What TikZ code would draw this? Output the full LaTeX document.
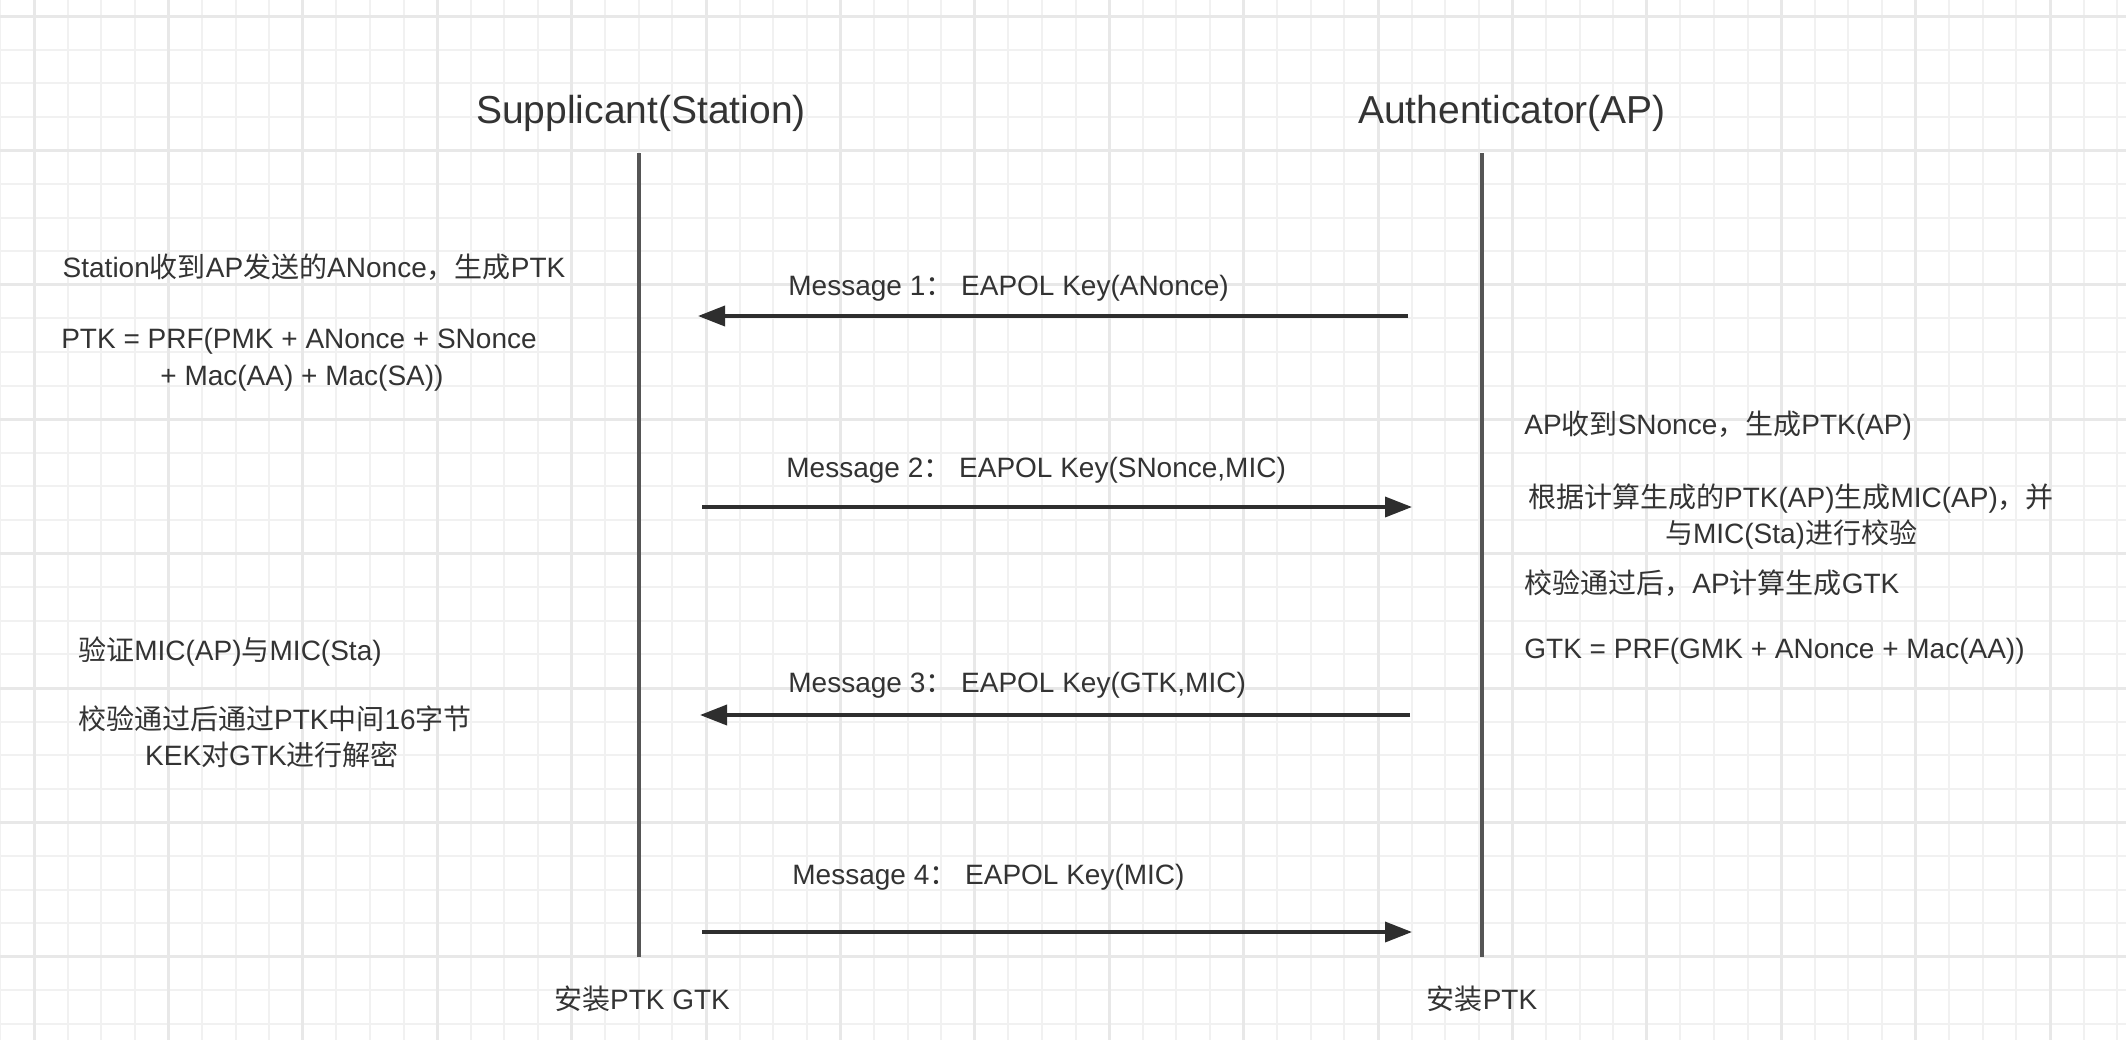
\documentclass[tikz,border=0pt]{standalone}
\usepackage{fontspec}
\setmainfont{Liberation Sans}
\newfontfamily\zh{Noto Sans CJK SC}
\usetikzlibrary{arrows.meta}
\definecolor{tcol}{HTML}{333333}
\definecolor{acol}{HTML}{2E2E2E}
\definecolor{lcol}{HTML}{555555}
\definecolor{gminor}{HTML}{F1F1F1}
\definecolor{gmajor}{HTML}{E8E8E8}
\newcommand\zhs[1]{{\zh #1}}
\begin{document}
\begin{tikzpicture}[x=0.5pt,y=-0.5pt,
  gridminor/.style={draw=gminor, line width=1pt},
  gridmajor/.style={draw=gmajor, line width=1.5pt},
  lifeline/.style={draw=lcol, line width=1.6pt},
  msg/.style={draw=acol, line width=1.8pt, -{Triangle[length=13.5pt,width=10pt]}},
  txt/.style={text=tcol, inner sep=0pt, font=\fontsize{14pt}{17pt}\selectfont},
  ttl/.style={text=tcol, inner sep=0pt, font=\fontsize{19.5pt}{23pt}\selectfont}]
\fill[white] (0,0) rectangle (2126,1040);
\useasboundingbox (0,0) rectangle (2126,1040);
% grid
\foreach \k in {0,...,63} { \draw[gridminor] ({0.4+33.6*\k},0) -- ({0.4+33.6*\k},1040); }
\foreach \k in {0,...,30} { \draw[gridminor] (0,{16+33.6*\k}) -- (2126,{16+33.6*\k}); }
\foreach \k in {0,...,15} { \draw[gridmajor] ({34+134.4*\k},0) -- ({34+134.4*\k},1040); }
\foreach \k in {0,...,7} { \draw[gridmajor] (0,{16+134.4*\k}) -- (2126,{16+134.4*\k}); }

% titles
\node[ttl, anchor=base] (sup) at (641,123) {Supplicant(Station)};
\node[ttl, anchor=base] (auth) at (1512,123) {Authenticator(AP)};

% lifelines
\coordinate (stop) at (639,153);
\coordinate (sbot) at (639,957);
\coordinate (atop) at (1482,153);
\coordinate (abot) at (1482,957);
\draw[lifeline] (stop) -- (sbot);
\draw[lifeline] (atop) -- (abot);

% messages
\coordinate (m1a) at (1408,316); \coordinate (m1b) at (698,316);
\coordinate (m2a) at (702,507);  \coordinate (m2b) at (1412,507);
\coordinate (m3a) at (1410,715); \coordinate (m3b) at (700,715);
\coordinate (m4a) at (702,932);  \coordinate (m4b) at (1412,932);
\draw[msg] (m1a) -- (m1b);
\draw[msg] (m2a) -- (m2b);
\draw[msg] (m3a) -- (m3b);
\draw[msg] (m4a) -- (m4b);

\node[txt, anchor=base west] (l1) at (788,295) {Message 1\zhs{：} EAPOL Key(ANonce)};
\node[txt, anchor=base west] (l2) at (786,477) {Message 2\zhs{：} EAPOL Key(SNonce,MIC)};
\node[txt, anchor=base west] (l3) at (788,692) {Message 3\zhs{：} EAPOL Key(GTK,MIC)};
\node[txt, anchor=base west] (l4) at (792,884) {Message 4\zhs{：} EAPOL Key(MIC)};

% left notes
\node[txt, anchor=base] (n1) at (314,277) {Station\zhs{收到}AP\zhs{发送的}ANonce\zhs{，生成}PTK};
\node[txt, anchor=base] (n2) at (299,348) {PTK = PRF(PMK + ANonce + SNonce};
\node[txt, anchor=base] (n3) at (302,385) {+ Mac(AA) + Mac(SA))};
\node[txt, anchor=base] (n4) at (230,660) {\zhs{验证}MIC(AP)\zhs{与}MIC(Sta)};
\node[txt, anchor=base] (n5) at (275,729) {\zhs{校验通过后通过}PTK\zhs{中间}16\zhs{字节}};
\node[txt, anchor=base] (n6) at (272,765) {KEK\zhs{对}GTK\zhs{进行解密}};

% right notes
\node[txt, anchor=base west] (r1) at (1524,434) {AP\zhs{收到}SNonce\zhs{，生成}PTK(AP)};
\node[txt, anchor=base] (r2) at (1791,507) {\zhs{根据计算生成的}PTK(AP)\zhs{生成}MIC(AP)\zhs{，并}};
\node[txt, anchor=base] (r3) at (1791,543) {\zhs{与}MIC(Sta)\zhs{进行校验}};
\node[txt, anchor=base west] (r4) at (1524,593) {\zhs{校验通过后，}AP\zhs{计算生成}GTK};
\node[txt, anchor=base west] (r5) at (1524,658) {GTK = PRF(GMK + ANonce + Mac(AA))};

% bottom
\node[txt, anchor=base] (b1) at (642,1009) {\zhs{安装}PTK GTK};
\node[txt, anchor=base] (b2) at (1482,1009) {\zhs{安装}PTK};
\end{tikzpicture}
\end{document}
